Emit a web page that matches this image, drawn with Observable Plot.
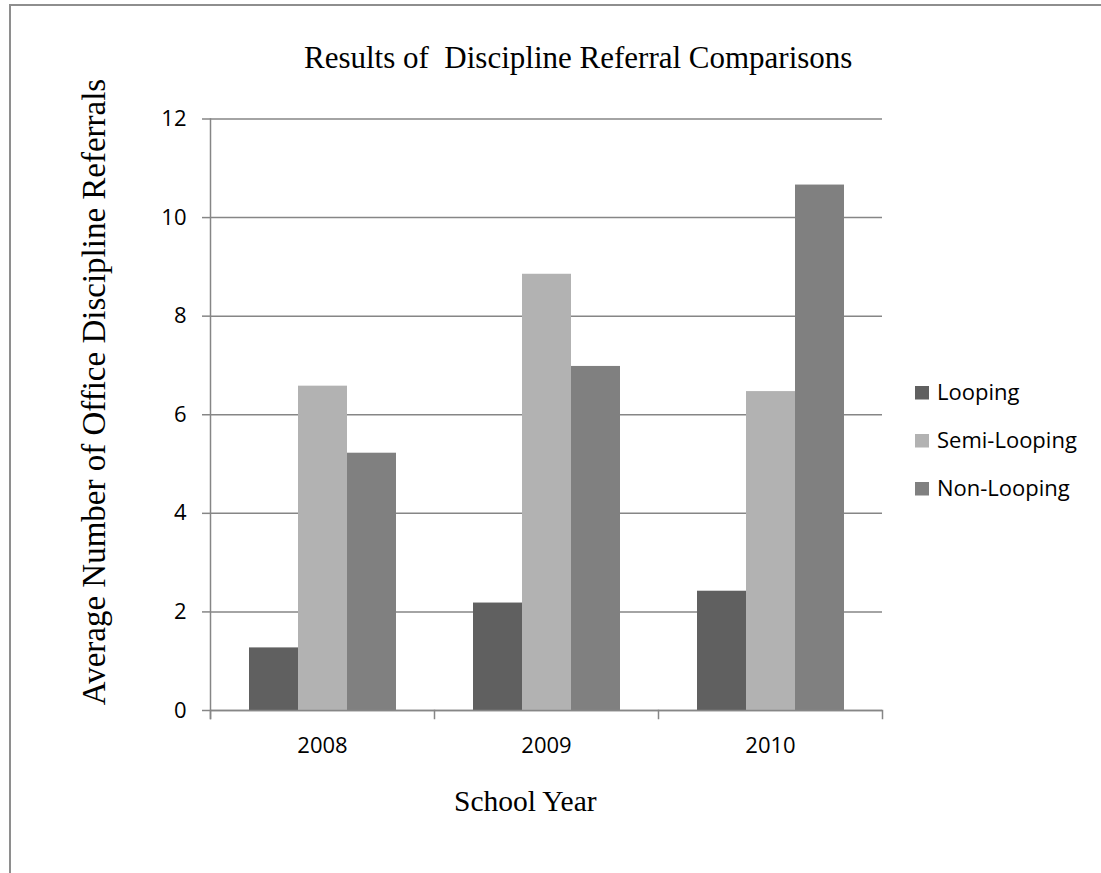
<!DOCTYPE html>
<html><head><meta charset="utf-8">
<script src="https://cdn.jsdelivr.net/npm/d3@7"></script>
<script src="https://cdn.jsdelivr.net/npm/@observablehq/plot@0.6"></script>
<style>
html,body{margin:0;padding:0;background:#fff;}
#wrap{position:relative;width:1101px;height:873px;overflow:hidden;background:#fff;}
#wrap svg{position:absolute;left:0;top:0;}
#border{position:absolute;left:9px;top:4px;right:-4px;bottom:-4px;border-top:2px solid #8e8e8e;border-left:2px solid #8e8e8e;}
</style></head><body><div id="wrap"><div id="border"></div></div>
<script>
const years = ["2008", "2009", "2010"];
const series = ["Looping", "Semi-Looping", "Non-Looping"];
const looping = [1.27, 2.18, 2.42];
const semiLooping = [6.58, 8.85, 6.47];
const nonLooping = [5.22, 6.98, 10.66];
const colors = ["#606060", "#b2b2b2", "#808080"];
const yTicks = [0, 2, 4, 6, 8, 10, 12];
const title = "Results of  Discipline Referral Comparisons";
const yLabel = "Average Number of Office Discipline Referrals";
const xLabel = "School Year";

const data = years.flatMap((yr, i) => [
  {year: yr, series: series[0], value: looping[i]},
  {year: yr, series: series[1], value: semiLooping[i]},
  {year: yr, series: series[2], value: nonLooping[i]}
]);

const W = 1101, H = 873, mT = 118.5, mB = 163, mL = 209, mR = 218;
const plotH = H - mT - mB;
const lineColor = "#868686";

const chart = Plot.plot({
  width: W, height: H,
  marginTop: mT, marginBottom: mB, marginLeft: mL, marginRight: mR,
  style: {fontFamily: "'Open Sans', sans-serif", fontSize: "22px", color: "#000", background: "transparent", overflow: "visible"},
  fx: {domain: years, padding: 0, label: null},
  x: {domain: series, paddingInner: 0, paddingOuter: 0.76, axis: null},
  y: {domain: [0, 12], label: null},
  color: {domain: series, range: colors},
  marks: [
    Plot.gridY(yTicks, {stroke: lineColor, strokeOpacity: 1, strokeWidth: 1.5}),
    Plot.barY(data, {fx: "year", x: "series", y: "value", fill: "series"}),
    Plot.ruleY([0], {stroke: lineColor, strokeWidth: 1.5}),
    Plot.frame({anchor: "left", facetAnchor: "left", stroke: lineColor, strokeWidth: 1.5, insetBottom: -8}),
    Plot.frame({anchor: "left", stroke: lineColor, strokeWidth: 1.5, insetTop: plotH, insetBottom: -8}),
    Plot.frame({anchor: "right", facetAnchor: "right", stroke: lineColor, strokeWidth: 1.5, insetTop: plotH, insetBottom: -8}),
    Plot.axisY(yTicks, {anchor: "left", facetAnchor: "left", tickSize: 8, tickPadding: 16, stroke: lineColor, strokeWidth: 1.5, fill: "#000", label: null, fontSize: 22}),
    Plot.axisFx({anchor: "bottom", tickSize: 0, tickPadding: 27, label: null, fill: "#000", fontSize: 22})
  ]
});
document.getElementById("wrap").appendChild(chart);

// Overlay texts and legend
const svg = d3.select("#wrap").append("svg")
  .attr("width", W).attr("height", H)
  .style("pointer-events", "none");

const serif = "'Liberation Serif', 'Times New Roman', serif";

svg.append("text")
  .attr("x", 304).attr("y", 68)
  .attr("text-anchor", "start")
  .style("font-family", serif)
  .style("font-size", "31px")
  .style("white-space", "pre")
  .attr("xml:space", "preserve")
  .attr("fill", "#000")
  .text(title);

svg.append("text")
  .attr("transform", "translate(105,392) rotate(-90)")
  .attr("text-anchor", "middle")
  .style("font-family", serif)
  .style("font-size", "33px")
  .attr("fill", "#000")
  .text(yLabel);

svg.append("text")
  .attr("x", 454).attr("y", 811)
  .attr("text-anchor", "start")
  .style("font-family", serif)
  .style("font-size", "29.5px")
  .attr("fill", "#000")
  .text(xLabel);

const legendTop = [386, 434, 482];
const lg = svg.append("g");
series.forEach((s, i) => {
  lg.append("rect")
    .attr("x", 915).attr("y", legendTop[i])
    .attr("width", 14).attr("height", 13.5)
    .attr("fill", colors[i]);
  lg.append("text")
    .attr("x", 937).attr("y", legendTop[i] + 14)
    .style("font-family", "'Open Sans', sans-serif")
    .style("font-size", "22px")
    .attr("fill", "#000")
    .text(s);
});
</script>
</body></html>
